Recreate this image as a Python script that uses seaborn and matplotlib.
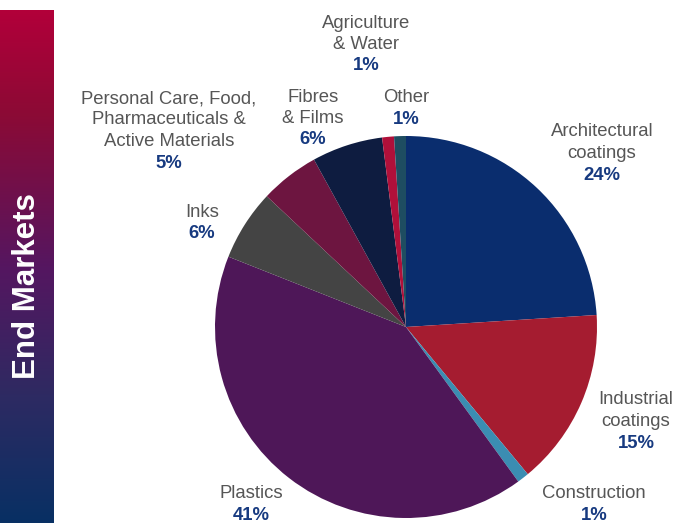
import matplotlib
matplotlib.use("Agg")
import matplotlib.pyplot as plt
import numpy as np
import seaborn as sns
from matplotlib.colors import LinearSegmentedColormap

sns.set_style("white")
plt.rcParams['font.family'] = ['Liberation Sans', 'DejaVu Sans']

# ---- data ----
categories = ["Architectural\ncoatings", "Industrial\ncoatings", "Construction", "Plastics", "Inks",
              "Personal Care, Food,\nPharmaceuticals &\nActive Materials", "Fibres\n& Films",
              "Agriculture\n& Water", "Other"]
shares = [24, 15, 1, 41, 6, 5, 6, 1, 1]
pct_labels = ["24%", "15%", "1%", "41%", "6%", "5%", "6%", "1%", "1%"]
colors = ["#0a2d6e", "#a51c30", "#3b8db2", "#4e1758", "#444444",
          "#6d1540", "#0e1c40", "#b0103a", "#1e4d61"]

# ---- layout (pixel coordinates: x, y of percent line) ----
label_pos = [(602, 175), (636, 443), (594, 515), (251, 515), (202, 234),
             (169, 163), (313, 140), (366, 66), (406, 119)]
LINE = 21.5

W, H = 674, 523
fig = plt.figure(figsize=(W / 100, H / 100), dpi=100)
ax = fig.add_axes([0, 0, 1, 1])
ax.set_xlim(0, W)
ax.set_ylim(0, H)
ax.set_aspect('equal')

cx, cy, r = 406, 327, 191
ax.pie(shares, colors=colors, startangle=90, counterclock=False,
       center=(cx, H - cy), radius=r, frame=True,
       wedgeprops=dict(linewidth=0))
ax.set_xlim(0, W)
ax.set_ylim(0, H)
ax.axis('off')

for name, pct, (x, yp) in zip(categories, pct_labels, label_pos):
    lines = name.split("\n")
    n = len(lines)
    for i, ln in enumerate(lines):
        yy = yp - LINE * (n - i)
        ax.text(x, H - yy, ln, ha='center', va='center', fontsize=13.3, color='#565656')
    ax.text(x, H - yp, pct, ha='center', va='center', fontsize=13.3,
            color='#173a80', fontweight='bold')

# ---- gradient side bar ----
bax = fig.add_axes([0, 0, 54 / W, (H - 10) / H])
cmap = LinearSegmentedColormap.from_list(
    "bar", [(0, "#b2003a"), (0.2, "#8c0a35"), (0.5, "#551660"), (0.75, "#2e2a62"), (1, "#083064")])
grad = np.linspace(0, 1, 256).reshape(-1, 1)
bax.imshow(grad, aspect='auto', cmap=cmap, extent=[0, 1, 0, 1], origin='upper')
bax.set_xlim(0, 1)
bax.set_ylim(0, 1)
bax.axis('off')
fig.text(27 / W, 1 - 286 / H, "End Markets", rotation=90, ha='center', va='center',
         color='white', fontweight='bold', fontsize=22.5)

fig.savefig("out.png", dpi=100)
